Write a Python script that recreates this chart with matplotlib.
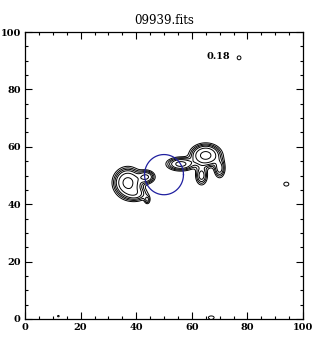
import numpy as np
import matplotlib.pyplot as plt

# source components: x, y, peak, width x, width y
comp_x = [37.0, 43.5, 40.0, 44.0, 65.0, 56.0, 63.5, 70.0, 77.0, 94.0, 12.0, 67.0]
comp_y = [47.5, 49.5, 43.5, 41.5, 57.0, 54.0, 50.0, 52.5, 91.0, 47.0, 1.0, 0.5]
comp_amp = [1.0, 0.5, 0.3, 0.2, 1.0, 0.55, 0.35, 0.35, 0.12, 0.12, 0.11, 0.14]
comp_sx = [2.6, 1.8, 2.5, 0.7, 2.8, 2.8, 1.3, 1.2, 0.9, 1.2, 0.5, 1.1]
comp_sy = [2.6, 1.3, 1.5, 1.0, 2.0, 1.3, 2.0, 2.0, 0.9, 0.9, 0.4, 0.6]
levels = [0.09, 0.14, 0.2, 0.28, 0.45, 0.8]

circle_x, circle_y, circle_r = 50.0, 50.3, 7.0
peak_label = "0.18"
label_x, label_y = 69.5, 91.3

xs = np.linspace(0, 100, 501)
X, Y = np.meshgrid(xs, xs)
Z = np.zeros_like(X)
for x0, y0, a, sx, sy in zip(comp_x, comp_y, comp_amp, comp_sx, comp_sy):
    Z += a * np.exp(-0.5 * (((X - x0) / sx) ** 2 + ((Y - y0) / sy) ** 2))

fig = plt.figure(figsize=(3.26, 3.47), dpi=100)
ax = fig.add_axes([25 / 326, 1 - 319 / 347, 278 / 326, 287 / 347])
ax.contour(X, Y, Z, levels=levels, colors='black', linewidths=0.7)
t = np.linspace(0, 2 * np.pi, 200)
ax.plot(circle_x + circle_r * np.cos(t), circle_y + circle_r * np.sin(t), color='#2020a0', lw=0.9)
ax.text(label_x, label_y, peak_label, fontsize=7, family='DejaVu Serif', weight='bold', ha='center', va='center')

ax.set_xlim(0, 100)
ax.set_ylim(0, 100)
ax.set_xticks(np.arange(0, 101, 20))
ax.set_yticks(np.arange(0, 101, 20))
ax.set_xticks(np.arange(0, 101, 5), minor=True)
ax.set_yticks(np.arange(0, 101, 5), minor=True)
ax.tick_params(which='both', direction='in', top=True, right=True, width=0.8)
ax.tick_params(which='major', length=5, labelsize=7, pad=3)
ax.tick_params(which='minor', length=2.5)
for lab in ax.get_xticklabels() + ax.get_yticklabels():
    lab.set_family('DejaVu Serif')
    lab.set_weight('bold')
for s in ax.spines.values():
    s.set_linewidth(0.9)
ax.set_title("09939.fits", fontsize=8.5, family='DejaVu Serif', pad=6)

fig.savefig("out.png", dpi=100)
